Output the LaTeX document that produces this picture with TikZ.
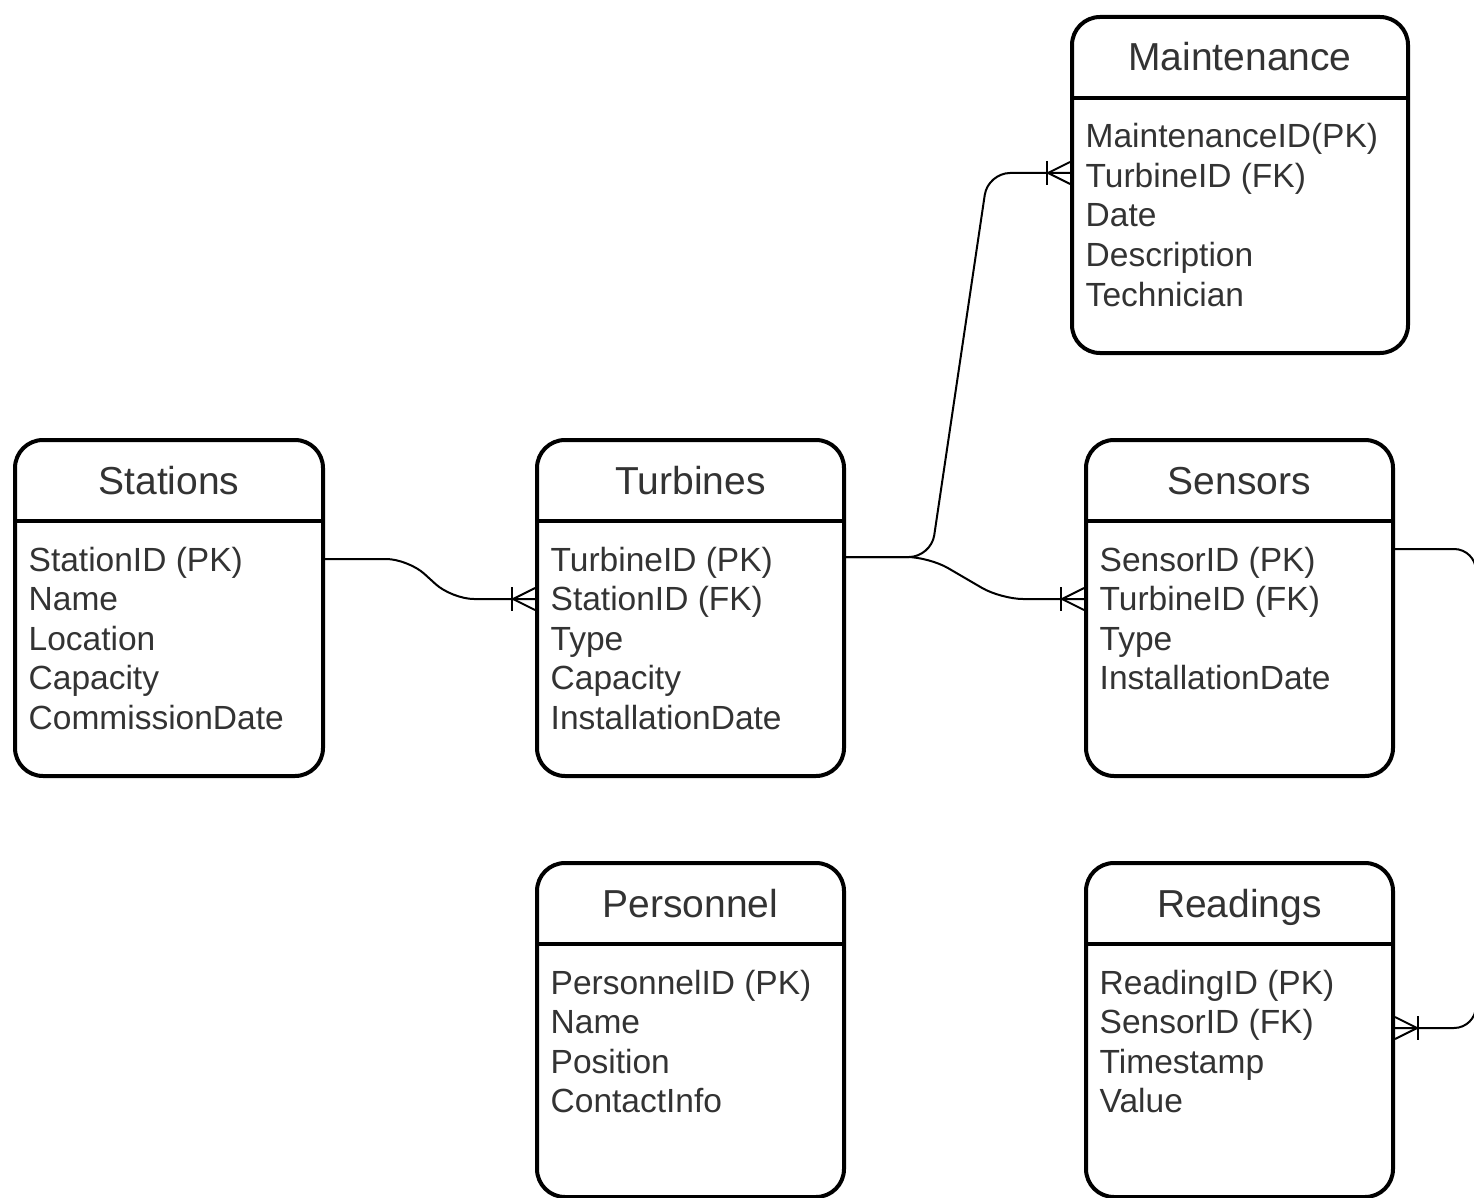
\documentclass[tikz,border=0pt]{standalone}
\usepackage{fontspec}
\setmainfont{Liberation Sans}
\usetikzlibrary{calc}
\definecolor{txt}{HTML}{333333}
\tikzset{
  tbl/.style={draw=black, line width=4pt, rounded corners=28pt, inner sep=0pt, fill=white},
  hline/.style={draw=black, line width=4pt},
  hdr/.style={anchor=base, inner sep=0pt, text=txt, font=\fontsize{39}{46}\selectfont},
  field/.style={anchor=base west, inner sep=0pt, text=txt, font=\fontsize{33.5}{39.5}\selectfont},
  conn/.style={draw=black, line width=2pt, rounded corners=22pt},
  crowbit/.style={draw=black, line width=2pt},
  crow/.pic={
    \draw[crowbit] (-23,-12) -- (-23,12);
    \draw[crowbit] (0,-11) -- (-22,0) -- (0,11);
    \draw[crowbit] (-22,0) -- (0,0);
  }
}
\newcommand\ertable[6]{%
  \node[tbl, anchor=north west, minimum width={(#4-#2)*1pt}, minimum height={(#5-#3)*1pt}] (#1) at (#2,#3) {};
  \draw[hline] ($(#1.north west)+(0,83)$) -- ($(#1.north east)+(0,83)$);
  \node[hdr] (#1-t) at ($(#1.north)+(0,56)$) {#6};
}
\newcommand\erfields[2]{%
  \foreach \fld [count=\i from 0] in {#2} {
    \node[field] (#1-f\i) at ($(#1.north west)+(15.5,{133+39.5*\i})$) {\fld};
  }
}
\begin{document}
\begin{tikzpicture}[x=1pt,y=-1pt]
\useasboundingbox (0,0) rectangle (1474,1198);

\ertable{st}{13}{438}{321}{774}{Stations}
\erfields{st}{StationID (PK),Name,Location,Capacity,CommissionDate}

\ertable{tb}{535}{438}{842}{774}{Turbines}
\erfields{tb}{TurbineID (PK),StationID (FK),Type,Capacity,InstallationDate}

\ertable{mt}{1070}{15}{1406}{351}{Maintenance}
\erfields{mt}{MaintenanceID(PK),TurbineID (FK),Date,Description,Technician}

\ertable{sn}{1084}{438}{1391}{774}{Sensors}
\erfields{sn}{SensorID (PK),TurbineID (FK),Type,InstallationDate}

\ertable{ps}{535}{861}{842}{1195}{Personnel}
\erfields{ps}{PersonnelID (PK),Name,Position,ContactInfo}

\ertable{rd}{1084}{861}{1391}{1195}{Readings}
\erfields{rd}{ReadingID (PK),SensorID (FK),Timestamp,Value}

% attachment points
\coordinate (st-out) at ($(st.north east)+(0,121)$);
\coordinate (tb-in)  at ($(tb.north west)+(0,161)$);
\coordinate (tb-out) at ($(tb.north east)+(0,119)$);
\coordinate (mt-in)  at ($(mt.north west)+(0,158)$);
\coordinate (sn-in)  at ($(sn.north west)+(0,161)$);
\coordinate (sn-out) at ($(sn.north east)+(0,111)$);
\coordinate (rd-in)  at ($(rd.north east)+(0,167)$);

% connectors
\draw[conn] (st-out) -- ++(83,0) -- ($(tb-in)+(-83,0)$) -- (tb-in);
\draw[conn] (tb-out) -- ++(85,0) -- ($(mt-in)+(-82,0)$) -- (mt-in);
\draw[conn] (tb-out) -- ++(83,0) -- ($(sn-in)+(-83,0)$) -- (sn-in);
\draw[conn] (sn-out) -- ++(81,0) |- (rd-in);

% crow's feet
\path (tb-in) pic {crow};
\path (mt-in) pic {crow};
\path (sn-in) pic {crow};
\path (rd-in) pic[xscale=-1] {crow};
\end{tikzpicture}
\end{document}
